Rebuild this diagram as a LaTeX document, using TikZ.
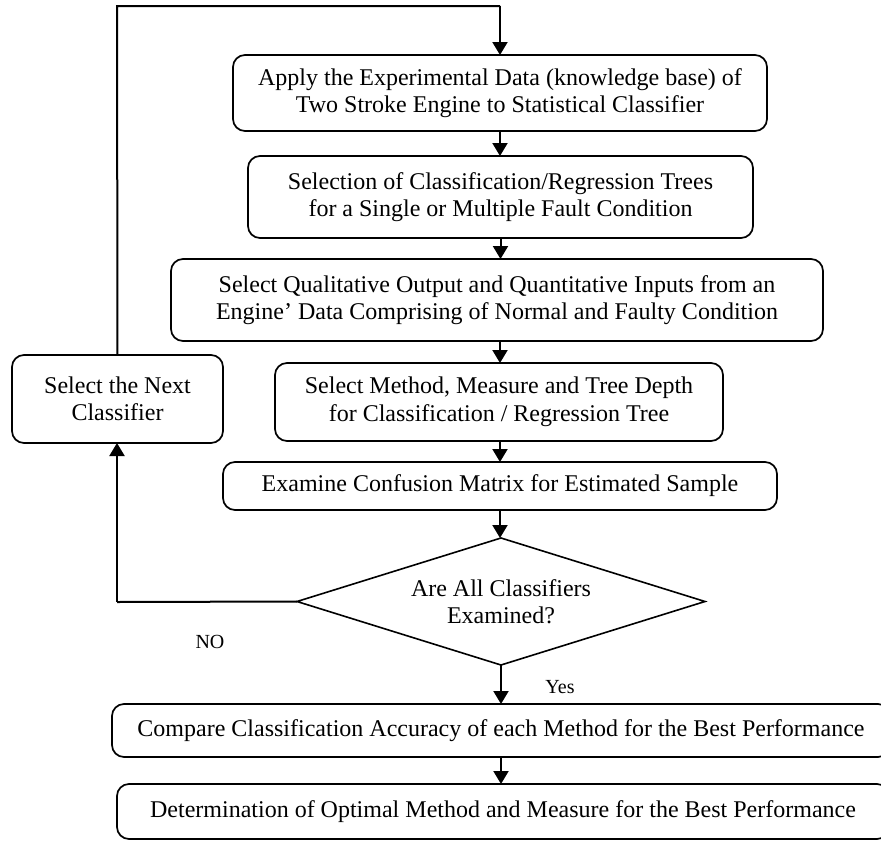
\documentclass[tikz,border=0pt]{standalone}
\usepackage{fontspec}
\setmainfont{Liberation Serif}
\usetikzlibrary{shapes.geometric,arrows.meta}
\begin{document}
\begin{tikzpicture}[x=1pt,y=-1pt,
  box/.style={draw,line width=1.7pt,rounded corners=12pt,align=center,inner sep=0pt,outer sep=0pt,font=\fontsize{24}{27.5}\selectfont},
  dia/.style={draw,line width=1.6pt,diamond,shape aspect=3.2,align=center,inner sep=0pt,outer sep=0pt,font=\fontsize{24}{27.5}\selectfont},
  arr/.style={line width=2pt,-{Triangle[length=13pt,width=15pt]}},
  ln/.style={line width=2pt},
  lbl/.style={font=\fontsize{20}{24}\selectfont,inner sep=0pt}]
\useasboundingbox (0,0) rectangle (881,841);
\clip (0,0) rectangle (881,841);
\node[box,minimum width=534pt,minimum height=76pt] (b1) at (500,93) {Apply the Experimental Data (knowledge base) of\\Two Stroke Engine to Statistical Classifier};
\node[box,minimum width=505pt,minimum height=82pt] (b2) at (500.5,197) {Selection of Classification/Regression Trees\\for a Single or Multiple Fault Condition};
\node[box,minimum width=652pt,minimum height=82pt] (b3) at (497,300) {Select Qualitative Output and Quantitative Inputs from an\\Engine' Data Comprising of Normal and Faulty Condition};
\node[box,minimum width=448pt,minimum height=78pt] (b4) at (499,402) {Select Method, Measure and Tree Depth\\for Classification / Regression Tree};
\node[box,minimum width=554pt,minimum height=48pt] (ex) at (500,486) {Examine Confusion Matrix for Estimated Sample};
\node[dia,minimum width=408pt,minimum height=127pt] (di) at (501,601.5) {Are All Classifiers\\Examined?};
\node[box,minimum width=778pt,minimum height=53pt] (cmp) at (501,730.5) {Compare Classification Accuracy of each Method for the Best Performance};
\node[box,minimum width=772pt,minimum height=55pt] (det) at (503,811.5) {Determination of Optimal Method and Measure for the Best Performance};
\node[box,minimum width=211pt,minimum height=88pt] (nx) at (117.5,399) {Select the Next\\Classifier};
\coordinate (top) at (500,6);
\coordinate (tl) at (117,6);
\coordinate (bl) at (117,602);
\draw[arr] (b1.south) -- (b1.south |- b2.north);
\draw[arr] (b2.south) -- (b2.south |- b3.north);
\draw[arr] (b1.south |- b3.south) -- (b1.south |- b4.north);
\draw[arr] (b1.south |- b4.south) -- (b1.south |- ex.north);
\draw[arr] (ex.south) -- (ex.south |- di.north);
\draw[arr] (di.south) -- (di.south |- cmp.north);
\draw[arr] (cmp.south) -- (cmp.south |- det.north);
\draw[ln] (di.west) -- (bl);
\draw[arr] (bl) -- (bl |- nx.south);
\draw[ln] (nx.north) -- (tl) -- (top);
\draw[arr] (top) -- (b1.north);
\node[lbl] (no) at (210,642) {NO};
\node[lbl] (yes) at (560,687) {Yes};
\end{tikzpicture}
\end{document}
